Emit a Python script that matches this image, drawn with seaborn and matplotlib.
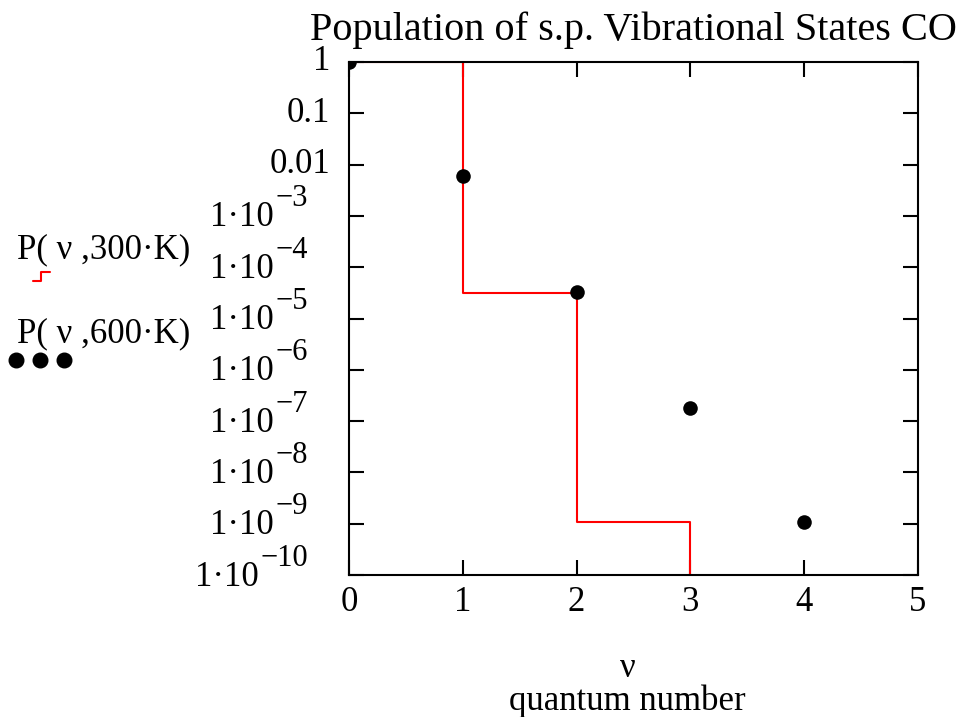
import matplotlib

matplotlib.use('Agg')
import matplotlib.pyplot as plt
from matplotlib.lines import Line2D

import numpy as np
import pandas as pd
import seaborn as sns

# values
quantum_number = [0, 1, 2, 3, 4]
pop_300K = [1.0, 3.2e-5, 1.1e-9, 4e-14]          # red step trace (last value is off scale)
pop_600K = [1.0, 6.0e-3, 3.3e-5, 1.8e-7, 1.1e-9]  # black dots
decades = [0, -1, -2, -3, -4, -5, -6, -7, -8, -9, -10]
x_ticks = [0, 1, 2, 3, 4, 5]

sns.set_style('ticks')
plt.rcParams['font.family'] = ['Liberation Serif', 'DejaVu Serif']
plt.rcParams['text.color'] = 'black'
plt.rcParams['axes.labelcolor'] = 'black'
plt.rcParams['xtick.color'] = 'black'
plt.rcParams['ytick.color'] = 'black'

W, H = 964, 717
fig = plt.figure(figsize=(W / 100, H / 100), dpi=100)
ax = fig.add_axes([349 / W, 1 - 575 / H, (918 - 349) / W, (575 - 62) / H])

df_300 = pd.DataFrame({'v': quantum_number[:len(pop_300K)], 'P': pop_300K})
df_600 = pd.DataFrame({'v': quantum_number, 'P': pop_600K})

sns.lineplot(data=df_300, x='v', y='P', ax=ax, color='#ff0000', linewidth=1.5,
             drawstyle='steps-post', estimator=None, legend=False)
sns.scatterplot(data=df_600, x='v', y='P', ax=ax, color='black', s=110,
                edgecolor='black', linewidth=0, legend=False, zorder=5)

ax.set_yscale('log')
ax.set_xlim(0, 5)
ax.set_ylim(1e-10, 1)
ax.set_xticks(x_ticks)
ax.set_xticklabels([str(t) for t in x_ticks])
ax.set_yticks([10.0 ** d for d in decades])
ax.set_yticklabels([''] * len(decades))
ax.yaxis.set_minor_locator(matplotlib.ticker.NullLocator())

for s in ax.spines.values():
    s.set_linewidth(1.5)
    s.set_color('black')
ax.tick_params(axis='both', which='major', direction='in', length=11, width=1.5,
               top=True, right=True, labelsize=25, color='black')
ax.tick_params(axis='x', pad=8)

# y tick labels drawn as base + raised exponent, like the original
renderer = fig.canvas.get_renderer()
ytrans = ax.get_yaxis_transform()
for d in decades:
    yv = 10.0 ** d
    if d >= -2:
        txt = {0: '1', -1: '0.1', -2: '0.01'}[d]
        ax.annotate(txt, xy=(0, yv), xycoords=ytrans, xytext=(-19, 0),
                    textcoords='offset pixels', ha='right', va='center',
                    fontsize=25, annotation_clip=False)
    else:
        ex = ax.annotate('\u2212' + str(-d), xy=(0, yv), xycoords=ytrans,
                         xytext=(-41, 17), textcoords='offset pixels',
                         ha='right', va='center', fontsize=22, annotation_clip=False)
        bb = ex.get_window_extent(renderer)
        x0 = ax.transAxes.transform((0, 0))[0]
        ax.annotate('1\u00b710', xy=(0, yv), xycoords=ytrans,
                    xytext=(bb.x0 - x0 - 2, -2), textcoords='offset pixels',
                    ha='right', va='center', fontsize=25, annotation_clip=False)

ax.set_title('Population of s.p. Vibrational States CO', fontsize=29, pad=16)
ax.set_xlabel('\u03bd\nquantum number', fontsize=25, linespacing=1.0)
ax.xaxis.set_label_coords(0.49, -0.15)
ax.xaxis.label.set_va('top')
ax.set_ylabel('')

# legend, Mathcad style: trace name with its symbol underneath
fig.text(17 / W, 1 - 258 / H, 'P( \u03bd ,300\u00b7K)', fontsize=25, va='baseline', ha='left')
fig.text(17 / W, 1 - 342 / H, 'P( \u03bd ,600\u00b7K)', fontsize=25, va='baseline', ha='left')
fig.add_artist(Line2D(np.array([33, 41, 41, 50]) / W, 1 - np.array([281, 281, 272, 272]) / H,
                      color='#ff0000', linewidth=1.5, transform=fig.transFigure))
fig.add_artist(Line2D(np.array([16, 40, 64]) / W, 1 - np.array([360, 360, 360]) / H,
                      color='black', linestyle='none', marker='o', markersize=10.5,
                      transform=fig.transFigure))

plt.savefig('out.png', dpi=100)
